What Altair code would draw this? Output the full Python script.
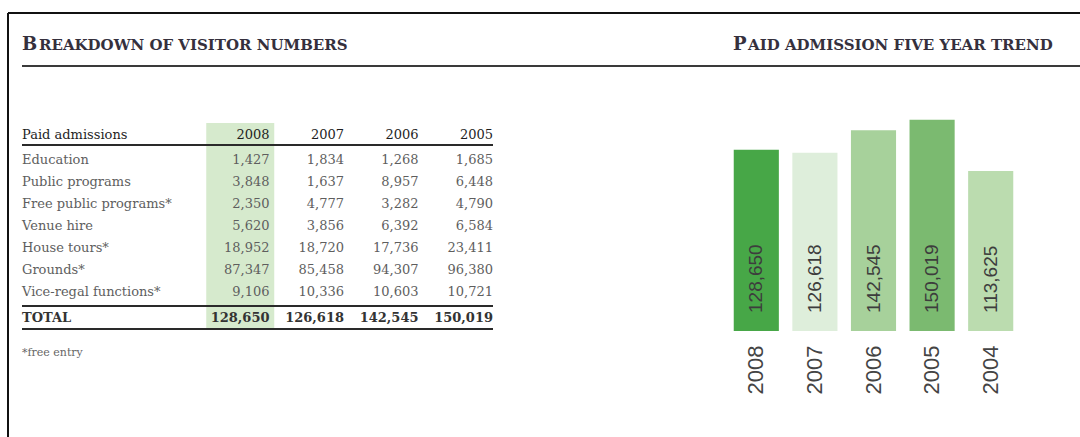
import altair as alt
import pandas as pd

# ---------------- data ----------------
years = ["2008", "2007", "2006", "2005"]
categories = ["Education", "Public programs", "Free public programs*", "Venue hire",
              "House tours*", "Grounds*", "Vice-regal functions*"]
education = [1427, 1834, 1268, 1685]
public_programs = [3848, 1637, 8957, 6448]
free_public_programs = [2350, 4777, 3282, 4790]
venue_hire = [5620, 3856, 6392, 6584]
house_tours = [18952, 18720, 17736, 23411]
grounds = [87347, 85458, 94307, 96380]
vice_regal = [9106, 10336, 10603, 10721]
totals = [128650, 126618, 142545, 150019]

header_label = "Paid admissions"
total_label = "TOTAL"
footnote = "*free entry"

trend_years = ["2008", "2007", "2006", "2005", "2004"]
trend_values = [128650, 126618, 142545, 150019, 113625]
trend_colors = ["#47a747", "#deeedb", "#a7d19b", "#7bba70", "#bbdcaf"]

title_left = "Breakdown of visitor numbers"
title_right = "Paid admission five year trend"

# ---------------- tables ----------------
series = [education, public_programs, free_public_programs, venue_hire,
          house_tours, grounds, vice_regal]
body_rows = []
for cat, vals in zip(categories, series):
    for y, v in zip(years, vals):
        body_rows.append({"row": cat, "year": y, "label": f"{v:,}"})
body_df = pd.DataFrame(body_rows)
total_df = pd.DataFrame({"row": [total_label] * 4, "year": years,
                         "label": [f"{v:,}" for v in totals]})
header_df = pd.DataFrame({"row": [header_label] * 4, "year": years, "label": years})
labels_df = pd.DataFrame({"row": categories})
row_domain = [header_label] + categories + [total_label]

SERIF = "DejaVu Serif"
SANS = "Liberation Sans"

xs = alt.Scale(type="band", domain=years, range=[199, 497], paddingInner=0, paddingOuter=0)
ys = alt.Scale(type="point", domain=row_domain, range=[138, 314], padding=0)

def X():
    return alt.X("year:N", scale=xs, axis=None, bandPosition=1)

def Y():
    return alt.Y("row:N", scale=ys, axis=None)

band = alt.Chart(pd.DataFrame({"year": ["2008"], "row": [header_label], "bottom": [total_label]})).mark_rect(
    color="#d6eacd", width=68, xOffset=4, yOffset=-15, y2Offset=16
).encode(x=alt.X("year:N", scale=xs, axis=None), y=Y(), y2="bottom:N")

def table_rule(row, off):
    return alt.Chart(pd.DataFrame({"row": [row]})).mark_rule(
        color="#2a2a2a", strokeWidth=2, yOffset=off
    ).encode(x=alt.value(22), x2=alt.value(493), y=Y())

body_text = alt.Chart(body_df).mark_text(
    align="right", baseline="middle", dx=-4, font=SERIF, fontSize=13, color="#5e5e5e"
).encode(x=X(), y=Y(), text="label:N")

total_text = alt.Chart(total_df).mark_text(
    align="right", baseline="middle", dx=-4, dy=4, font=SERIF, fontSize=13,
    fontWeight="bold", color="#333333"
).encode(x=X(), y=Y(), text="label:N")

header_text = alt.Chart(header_df).mark_text(
    align="right", baseline="middle", dx=-4, dy=-3, font=SERIF, fontSize=13,
    color="#1e1e1e"
).encode(x=X(), y=Y(), text="label:N")

label_text = alt.Chart(labels_df).mark_text(
    align="left", baseline="middle", font=SERIF, fontSize=13, color="#5e5e5e"
).encode(x=alt.value(22), y=Y(), text="row:N")

header_label_text = alt.Chart(pd.DataFrame({"row": [header_label]})).mark_text(
    align="left", baseline="middle", dy=-3, font=SERIF, fontSize=13,
    color="#1e1e1e"
).encode(x=alt.value(22), y=Y(), text="row:N")

total_label_text = alt.Chart(pd.DataFrame({"row": [total_label]})).mark_text(
    align="left", baseline="middle", dy=4, font=SERIF, fontSize=13,
    fontWeight="bold", color="#333333"
).encode(x=alt.value(22), y=Y(), text="row:N")

table = alt.layer(
    band,
    table_rule(header_label, 7),
    table_rule(total_label, -8),
    table_rule(total_label, 15),
    header_label_text, header_text, label_text, body_text,
    total_label_text, total_text,
)

# ---------------- bars ----------------
trend_df = pd.DataFrame({"year": trend_years, "value": trend_values})
bx = alt.Scale(domain=trend_years, range=[727, 1020], paddingInner=0.23, paddingOuter=0.115)
by = alt.Scale(domain=[0, 235000], nice=False, zero=True)

bar_marks = alt.Chart(trend_df).mark_bar().encode(
    x=alt.X("year:N", scale=bx, sort=trend_years,
            axis=alt.Axis(orient="bottom", title=None, labelAngle=270, labelFont=SANS,
                          labelFontSize=22, labelColor="#444444", labelPadding=14,
                          domain=False, ticks=False)),
    y=alt.Y("value:Q", scale=by, axis=None),
    color=alt.Color("year:N", scale=alt.Scale(domain=trend_years, range=trend_colors), legend=None),
)
bar_text = alt.Chart(trend_df).mark_text(
    angle=270, align="left", baseline="middle", dx=18, font=SANS, fontSize=19, color="#3d3d3d"
).encode(
    x=alt.X("year:N", scale=bx, sort=trend_years),
    y=alt.datum(0),
    text=alt.Text("value:Q", format=","),
)
bars = alt.layer(bar_marks, bar_text)

# ---------------- decorations ----------------
one = pd.DataFrame({"a": [0]})
frame_top = alt.Chart(one).mark_rule(color="#111111", strokeWidth=2).encode(
    x=alt.value(8), x2=alt.value(1080), y=alt.value(13))
frame_left = alt.Chart(one).mark_rule(color="#111111", strokeWidth=2).encode(
    x=alt.value(8), y=alt.value(13), y2=alt.value(437))
title_rule = alt.Chart(one).mark_rule(color="#3a3a3a", strokeWidth=2).encode(
    x=alt.value(22), x2=alt.value(1080), y=alt.value(66))

def title_text(txt, x, size):
    return alt.Chart(pd.DataFrame({"t": [txt]})).mark_text(
        align="left", baseline="alphabetic", font=SERIF, fontSize=size,
        fontWeight="bold", color="#35303d"
    ).encode(x=alt.value(x), y=alt.value(50), text="t:N")

titles = [
    title_text(title_left[0].upper(), 22, 18),
    title_text(title_left[1:].upper(), 39, 15),
    title_text(title_right[0].upper(), 733, 18),
    title_text(title_right[1:].upper(), 748, 15),
]
foot = alt.Chart(pd.DataFrame({"t": [footnote]})).mark_text(
    align="left", baseline="middle", font=SERIF, fontSize=11, color="#666666"
).encode(x=alt.value(22), y=alt.value(353), text="t:N")

chart = alt.layer(
    frame_top, frame_left, title_rule, *titles, foot, table, bars
).resolve_scale(
    x="independent", y="independent", color="independent"
).properties(
    width=1080, height=331,
    padding={"left": 0, "top": 0, "right": 0, "bottom": 106},
    autosize=alt.AutoSizeParams(type="none"),
    background="white",
).configure_view(stroke=None)

chart.save("out.html", embed_options={"renderer": "svg", "actions": False})
